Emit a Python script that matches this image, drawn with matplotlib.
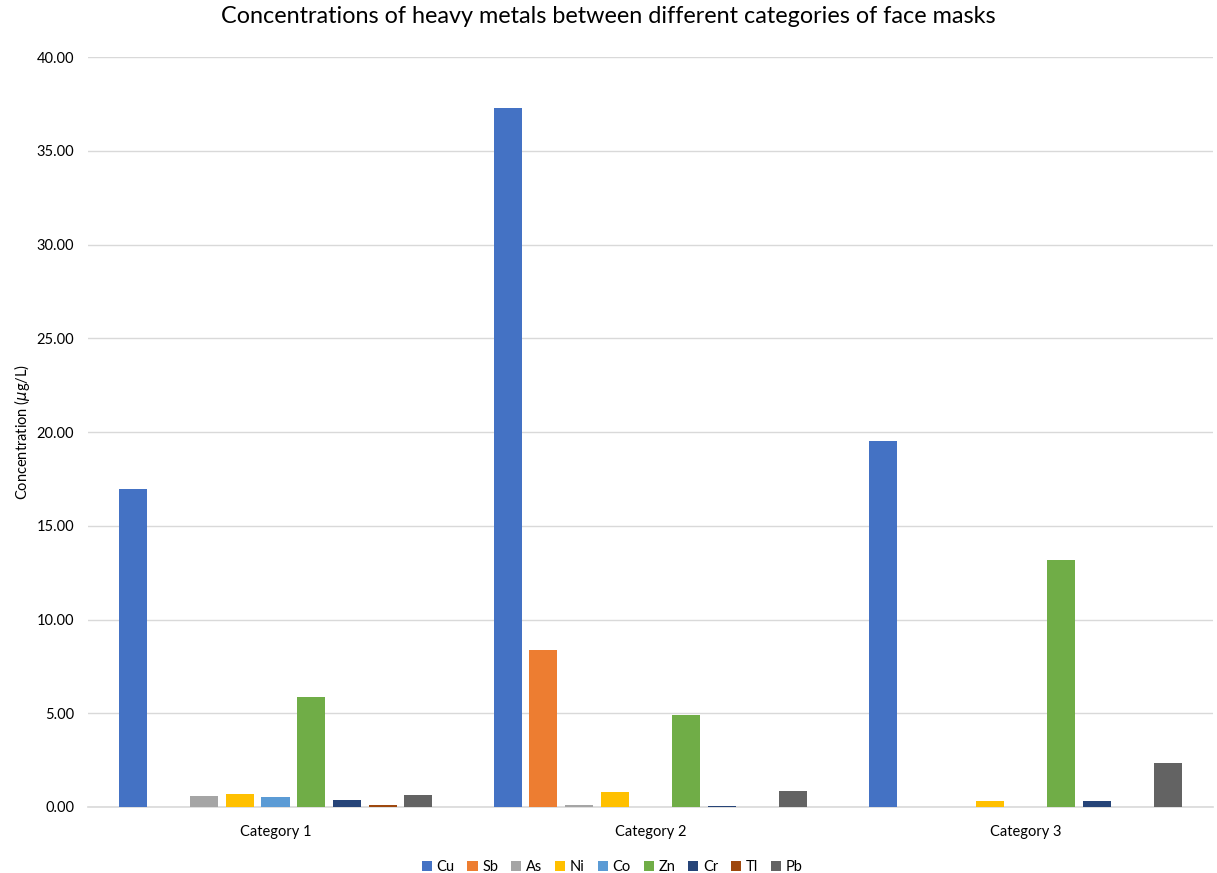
#!/usr/bin/env python3
# -*- coding: utf-8 -*-

import numpy as np
import matplotlib
matplotlib.use('Agg')
import matplotlib.pyplot as plt

plt.rcParams['font.family'] = ['Lato', 'DejaVu Sans']

categories = ['Category 1', 'Category 2', 'Category 3']
metals = ['Cu', 'Sb', 'As', 'Ni', 'Co', 'Zn', 'Cr', 'Tl', 'Pb']

# concentration per metal, one value per category (ug/L)
cu = [16.96, 37.28, 19.50]
sb = [0.02, 8.37, 0.02]
as_ = [0.60, 0.12, 0.01]
ni = [0.71, 0.80, 0.32]
co = [0.52, 0.02, 0.02]
zn = [5.87, 4.91, 13.15]
cr = [0.37, 0.07, 0.32]
tl = [0.13, 0.02, 0.0]
pb = [0.62, 0.85, 2.33]

colors = ['#4472C4', '#ED7D31', '#A5A5A5', '#FFC000', '#5B9BD5',
          '#70AD47', '#264478', '#9E480E', '#636363']

series = [cu, sb, as_, ni, co, zn, cr, tl, pb]

fig = plt.figure(figsize=(12.17, 8.73), dpi=100)
ax = fig.add_axes([88 / 1217, 1 - 807 / 873, 1125 / 1217, 750 / 873])

x = np.arange(len(categories))
step = 0.0953
width = 0.0747
for i, (name, vals) in enumerate(zip(metals, series)):
    ax.bar(x + (i - 4) * step, vals, width, color=colors[i], label=name,
           linewidth=0, zorder=3)

ax.set_xlim(-0.5, 2.5)
ax.set_ylim(0, 40)
ax.set_yticks(np.arange(0, 41, 5))
ax.set_yticklabels(['%.2f' % v for v in np.arange(0, 41, 5)], fontsize=10.5)
ax.set_xticks(x)
ax.set_xticklabels(categories, fontsize=10.5)
ax.tick_params(axis='y', length=0, pad=10, colors='#000000')
ax.tick_params(axis='x', length=0, pad=13, colors='#000000')
ax.yaxis.grid(True, color='#D9D9D9', linewidth=1, zorder=0)
for side in ['top', 'right', 'left']:
    ax.spines[side].set_visible(False)
ax.spines['bottom'].set_color('#D9D9D9')
ax.spines['bottom'].set_linewidth(1.2)

ax.set_ylabel('Concentration ($\\mu$g/L)', fontsize=10.5, labelpad=3)
fig.suptitle('Concentrations of heavy metals between different categories of face masks',
             fontsize=16.8, y=0.993)

fig.legend(loc='lower center', ncol=9, frameon=False, fontsize=10.5,
           bbox_to_anchor=(0.503, -0.016), handlelength=0.7, handleheight=0.7,
           handletextpad=0.3, columnspacing=0.9)

fig.savefig('out.png', dpi=100)
